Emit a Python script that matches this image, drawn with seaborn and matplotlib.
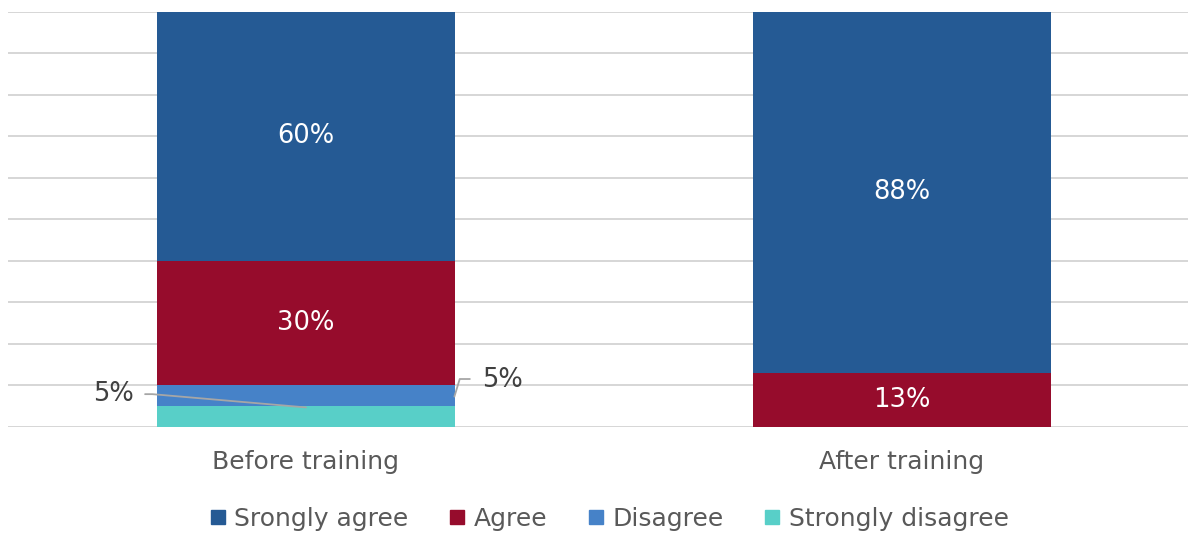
import matplotlib
matplotlib.use("Agg")
import matplotlib.pyplot as plt
from matplotlib.lines import Line2D
import numpy as np
import pandas as pd
import seaborn as sns

# Survey responses before and after training (percent of respondents)
categories = ["Before training", "After training"]
strongly_agree = [60, 88]
agree = [30, 13]
disagree = [5, 0]
strongly_disagree = [5, 0]
series_names = ["Srongly agree", "Agree", "Disagree", "Strongly disagree"]
colors = ["#255A94", "#960C2C", "#4682C8", "#58CFC8"]

sns.set_theme(style="white")
plt.rcParams["font.family"] = ["DejaVu Sans"]

fig = plt.figure(figsize=(11.92, 5.36), dpi=100)
ax = fig.add_axes([8 / 1192, 1 - 426.5 / 536, 1180 / 1192, 414.8 / 536])

# Stack from the bottom: strongly disagree, disagree, agree, strongly agree
layers = [strongly_disagree, disagree, agree, strongly_agree]
layer_colors = [colors[3], colors[2], colors[1], colors[0]]
cum = np.cumsum(np.array(layers, dtype=float), axis=0)

# Draw cumulative totals tallest first so each lower layer overlays the one above
for i in range(len(layers) - 1, -1, -1):
    df = pd.DataFrame({"category": categories, "value": cum[i]})
    sns.barplot(data=df, x="category", y="value", color=layer_colors[i],
                width=0.5, saturation=1, ax=ax, zorder=2, linewidth=0)

ax.set_ylim(0, 100)
ax.set_xlim(-0.5, 1.48)
ax.set_yticks(np.arange(0, 101, 10))
ax.set_yticklabels([])
ax.yaxis.grid(True, color="#D6D6D6", linewidth=1.4, zorder=0)
ax.set_axisbelow(True)
for s in ax.spines.values():
    s.set_visible(False)
ax.set_xlabel("")
ax.set_ylabel("")
ax.tick_params(axis="x", length=0, pad=17, labelsize=18, labelcolor="#595959")
ax.tick_params(axis="y", length=0)

# Value labels inside segments
label_fs = 18.5
for xi in range(len(categories)):
    bottoms = [0.0] + list(cum[:-1, xi])
    for li, vals in enumerate(layers):
        v = vals[xi]
        if v <= 0:
            continue
        top = min(bottoms[li] + v, 100)
        mid = (bottoms[li] + top) / 2
        if v >= 10:
            ax.text(xi, mid, f"{v}%", ha="center", va="center",
                    color="white", fontsize=label_fs, zorder=5)

# Small segments labelled outside the bar with leader lines
sd_val = strongly_disagree[0]
d_val = disagree[0]
ax.plot([-0.27, -0.258, 0.0], [7.8, 7.8, sd_val - 0.4], color="#A6A6A6",
        linewidth=1.3, zorder=4, clip_on=False)
ax.text(-0.323, 7.8, f"{sd_val}%", ha="center", va="center",
        color="#404040", fontsize=label_fs, zorder=5)
ax.plot([0.249, 0.258, 0.275],
        [sd_val + d_val / 2 - 0.3, 11.45, 11.45], color="#A6A6A6",
        linewidth=1.3, zorder=4, clip_on=False)
ax.text(0.33, 11.3, f"{d_val}%", ha="center", va="center",
        color="#404040", fontsize=label_fs, zorder=5)

handles = [Line2D([], [], marker="s", linestyle="none", markersize=10,
                  markerfacecolor=c, markeredgecolor=c) for c in colors]
fig.legend(handles, series_names, loc="center", ncol=4,
           bbox_to_anchor=(609 / 1192, 1 - 519 / 536), frameon=False,
           fontsize=18, labelcolor="#595959", handlelength=0.7,
           handletextpad=0.3, columnspacing=1.6)

fig.savefig("out.png", dpi=100)
